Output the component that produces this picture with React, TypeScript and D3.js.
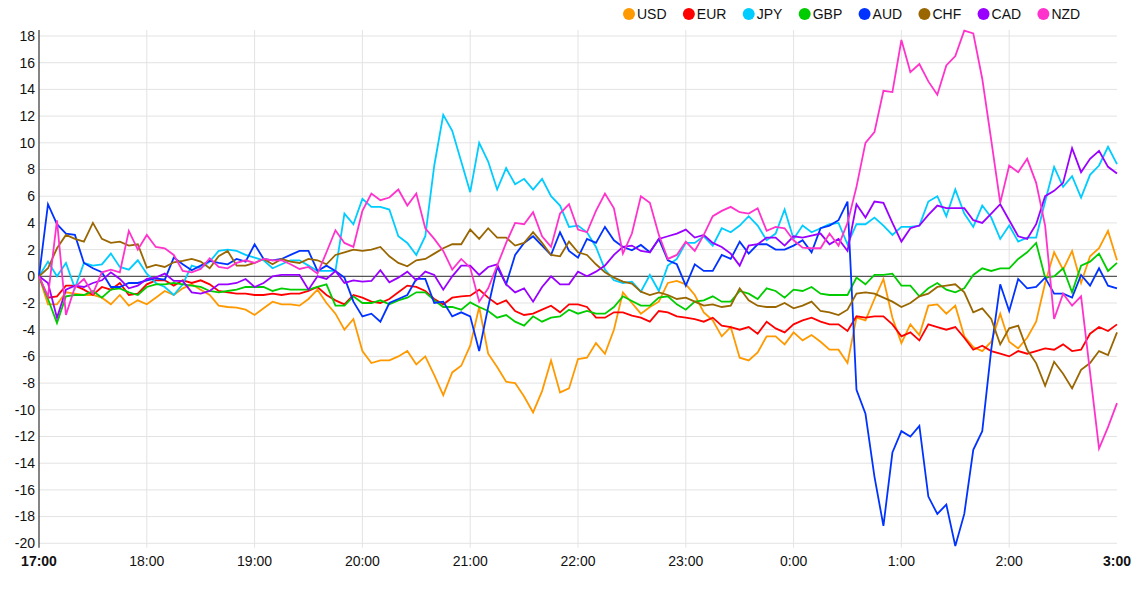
import { useEffect, useRef } from 'react'
import * as d3 from 'd3'

// 5-minute steps from 17:00 to 3:00 (121 points)
const hourLabels = ['17:00', '18:00', '19:00', '20:00', '21:00', '22:00', '23:00', '0:00', '1:00', '2:00', '3:00']
const yTicks = d3.range(-20, 19, 2)

const usd = [0, -2.1, -2.1, -1.2, -1.3, -1.4, -1.4, -1.6, -2.1, -1.4, -2.2, -1.8, -2.1, -1.6, -1.1, -1.4, -0.9, -0.6, -1.0, -1.4, -2.2, -2.3, -2.35, -2.5, -2.9, -2.4, -1.9, -2.1, -2.1, -2.2, -1.7, -1.0, -2.0, -2.8, -4.0, -3.2, -5.6, -6.5, -6.3, -6.3, -6.0, -5.6, -6.6, -6.0, -7.4, -8.9, -7.2, -6.7, -5.2, -2.3, -5.8, -6.8, -7.9, -8.0, -9.0, -10.2, -8.6, -6.3, -8.7, -8.4, -6.2, -6.1, -5.0, -5.8, -4.0, -1.2, -2.0, -2.8, -2.3, -1.9, -0.5, -0.35, -0.6, -1.4, -2.7, -3.3, -4.5, -3.8, -6.1, -6.3, -5.7, -4.5, -4.5, -5.1, -4.2, -4.8, -4.4, -4.9, -5.5, -5.5, -6.5, -3.1, -3.3, -1.7, -0.2, -3.1, -5.0, -3.6, -4.4, -2.2, -2.1, -2.8, -2.2, -4.5, -5.3, -5.6, -4.9, -2.8, -4.9, -5.4, -4.6, -3.4, -0.5, 1.8, 0.5, 1.9, -0.5, 1.5, 2.1, 3.4, 1.2]
const eur = [0, -1.6, -1.5, -0.7, -0.7, -1.0, -1.4, -0.8, -1.0, -0.5, -1.4, -1.3, -0.6, -0.3, -0.3, -0.7, -0.3, -0.5, -0.3, -0.6, -1.1, -1.2, -1.3, -1.3, -1.4, -1.4, -1.3, -1.4, -1.3, -1.3, -1.1, -0.8, -1.4, -1.8, -2.1, -1.4, -1.6, -1.9, -2.0, -1.7, -1.2, -0.7, -0.8, -1.1, -1.7, -2.1, -1.6, -1.5, -1.45, -1.0, -1.6, -2.1, -1.8, -2.6, -2.9, -2.8, -2.5, -2.2, -2.7, -2.1, -2.1, -2.3, -3.1, -3.1, -2.7, -2.7, -2.95, -3.1, -3.4, -2.6, -2.7, -3.0, -3.1, -3.2, -3.4, -3.1, -3.7, -3.8, -4.0, -3.8, -4.3, -3.4, -3.9, -4.2, -3.6, -3.3, -3.1, -3.4, -3.6, -3.6, -4.1, -3.0, -3.1, -3.0, -3.0, -3.6, -4.5, -4.2, -4.8, -3.6, -3.8, -4.0, -3.8, -4.6, -5.5, -5.2, -5.6, -5.8, -6.0, -5.6, -5.8, -5.6, -5.4, -5.5, -5.1, -5.6, -5.5, -4.3, -3.8, -4.1, -3.6]
const jpy = [0, 1.1, 0, 1.0, -0.9, 1.0, 0.8, 0.9, 1.7, 0.7, 0.5, 1.2, 0.2, -0.5, -0.8, -1.4, -0.6, 0.8, 0.6, 1.1, 1.9, 2.0, 1.9, 1.6, 1.4, 1.2, 0.6, 0.9, 1.2, 1.2, 0.8, 0.4, 0.4, 0.4, 4.7, 3.9, 5.8, 5.2, 5.2, 5.0, 3.0, 2.5, 1.6, 3.0, 8.3, 12.1, 10.9, 8.6, 6.3, 10.0, 8.6, 6.5, 8.1, 6.9, 7.3, 6.5, 7.3, 6.0, 5.3, 3.7, 3.8, 3.3, 2.2, 0.5, -0.3, -0.5, -0.4, -1.15, 0.1, -1.1, 0.8, 1.3, 2.5, 2.5, 3.0, 2.3, 3.6, 3.3, 3.8, 4.5, 3.8, 2.7, 3.2, 5.0, 2.8, 3.8, 3.3, 3.6, 3.9, 4.0, 2.4, 3.9, 3.9, 4.4, 3.8, 3.1, 3.7, 3.7, 3.8, 5.6, 6.0, 4.5, 6.5, 4.7, 3.7, 5.3, 4.4, 2.8, 3.8, 2.6, 2.9, 2.9, 5.6, 8.2, 6.7, 7.5, 5.9, 7.6, 8.3, 9.7, 8.4]
const gbp = [0, -1.7, -3.5, -1.5, -1.4, -1.4, -1.1, -1.6, -1.0, -0.9, -1.2, -1.4, -0.8, -0.6, -0.6, -0.5, -0.6, -0.7, -0.8, -1.1, -1.2, -1.1, -1.0, -0.8, -0.8, -0.8, -1.1, -0.9, -1.0, -1.0, -1.0, -0.8, -0.6, -2.2, -2.2, -1.5, -2.0, -2.0, -1.8, -2.1, -1.8, -1.6, -1.2, -1.2, -1.8, -2.3, -2.3, -2.5, -1.95, -2.3, -2.6, -3.1, -2.9, -3.4, -3.7, -3.0, -3.4, -3.1, -3.0, -2.5, -2.8, -2.6, -2.8, -2.8, -2.3, -1.5, -1.85, -2.2, -2.2, -1.6, -1.5, -2.1, -2.5, -1.9, -1.8, -1.5, -1.9, -1.9, -1.1, -1.3, -1.7, -0.9, -1.1, -1.6, -1.0, -1.1, -0.8, -1.3, -1.4, -1.4, -1.4, -0.1, -0.6, 0.1, 0.1, 0.2, -0.7, -0.7, -1.5, -0.9, -0.5, -1.0, -1.2, -0.9, 0.1, 0.6, 0.4, 0.6, 0.6, 1.3, 1.8, 2.5, -0.1, 0, 0.6, -1.2, 0.8, 1.1, 1.7, 0.4, 1.0]
const aud = [0, 5.4, 3.9, 3.2, 3.1, 1.0, 0.6, 0.3, -0.8, -0.8, -0.5, -0.5, -0.3, -0.15, -0.25, 1.4, 0.9, 0.45, 0.8, 1.15, 1.0, 0.9, 1.3, 1.1, 2.4, 1.3, 1.2, 1.3, 1.6, 1.9, 1.9, 0.4, 0.8, 0.4, -0.1, -1.9, -3.0, -2.8, -3.4, -2.0, -1.7, -1.4, -0.2, -0.2, -2.0, -1.9, -3.0, -2.7, -3.0, -5.6, -2.3, 0.7, -0.6, 1.6, 2.5, 3.0, 2.3, 1.6, 3.3, 1.9, 1.4, 2.8, 2.5, 3.7, 2.7, 2.2, 1.95, 2.35, 1.8, 2.8, 1.2, 0.9, -0.7, 0.9, 0.4, 0.4, 1.6, 1.3, 2.6, 1.7, 2.4, 2.4, 2.0, 2.0, 2.3, 2.7, 1.8, 3.6, 3.8, 4.2, 5.6, -8.5, -10.3, -15.0, -18.7, -13.2, -11.6, -12.0, -11.2, -16.5, -17.8, -17.1, -20.2, -17.8, -13.0, -11.6, -5.5, -0.6, -2.6, -0.2, -0.9, -0.8, -0.1, -1.3, -1.3, -1.6, 0.1, -0.7, 0.6, -0.7, -0.9]
const chf = [0, 0.6, 2.1, 3.1, 2.8, 2.6, 4.0, 2.8, 2.5, 2.6, 2.3, 2.4, 0.65, 0.85, 0.7, 1.05, 1.15, 1.3, 1.1, 0.6, 1.5, 1.9, 0.8, 0.8, 1.0, 1.3, 0.9, 1.3, 1.1, 1.0, 1.3, 1.2, 0.9, 1.6, 1.8, 2.0, 1.9, 2.0, 2.2, 1.5, 1.0, 0.75, 1.2, 1.3, 1.7, 2.1, 2.4, 2.4, 3.5, 2.8, 3.6, 2.9, 2.9, 2.3, 2.5, 3.3, 2.5, 1.6, 1.5, 2.6, 1.8, 1.6, 0.9, 0.3, -0.1, -0.4, -0.55, -1.15, -1.4, -1.2, -1.4, -1.7, -1.6, -1.9, -2.2, -2.1, -2.3, -2.2, -0.9, -1.8, -2.2, -2.3, -2.3, -2.0, -2.4, -2.2, -1.9, -2.6, -2.7, -2.9, -2.5, -1.3, -1.2, -1.3, -1.6, -1.9, -2.3, -2.0, -1.5, -1.3, -0.8, -0.7, -0.6, -1.2, -2.7, -2.4, -3.2, -5.1, -3.9, -3.7, -5.5, -6.5, -8.2, -6.4, -7.3, -8.4, -7.0, -6.5, -5.6, -5.9, -4.2]
const cad = [0, -0.5, -3.1, -1.0, -0.7, -0.8, -0.5, -0.3, 0.3, -0.2, -0.9, -0.7, -0.2, -0.1, 0.2, -0.35, -0.35, -1.2, -1.3, -1.1, -0.6, -0.6, -0.5, -0.2, -0.8, -0.5, 0, 0.1, 0.1, 0.1, -1.0, 0, -0.2, 0.4, -0.5, -0.3, -0.4, -0.35, 0.45, -0.45, -0.1, 0.35, -0.3, 0.35, 0.1, -1.0, 0, 0.8, 0.8, 0.1, 0.7, 0.9, -0.6, -1.2, -0.9, -1.9, -0.8, 0, -0.6, -0.6, 0.35, 0, 0.35, 0.8, 1.6, 2.2, 2.3, 1.9, 1.8, 2.8, 3.0, 3.2, 3.5, 2.9, 3.1, 2.5, 2.2, 1.7, 0.8, 2.3, 2.4, 2.9, 2.9, 2.3, 3.0, 2.9, 3.05, 3.2, 2.4, 2.8, 1.9, 5.4, 4.4, 5.6, 5.5, 4.0, 2.6, 3.6, 3.8, 4.6, 5.3, 5.1, 5.1, 5.1, 4.2, 4.0, 4.7, 5.4, 4.2, 3.0, 2.8, 3.9, 6.0, 6.4, 7.0, 9.6, 7.8, 8.8, 9.4, 8.2, 7.7]
const nzd = [0, -1.5, 4.2, -2.9, -0.8, -0.2, -1.3, 0.3, 0.5, 0.3, 3.4, 2.0, 3.1, 2.2, 2.1, 1.6, 0.4, 0.3, 0.55, 1.35, 0.7, 0.6, 1.0, 1.2, 1.0, 1.3, 1.2, 1.2, 0.9, 0.55, 0.7, 0.2, 1.8, 3.45, 2.5, 2.2, 4.9, 6.2, 5.7, 5.9, 6.5, 5.3, 6.2, 3.6, 2.8, 1.9, 0.5, 1.3, 0.65, -1.9, -0.9, 0.8, 2.5, 4.0, 3.9, 4.8, 3.0, 2.2, 4.7, 5.4, 3.5, 3.3, 4.9, 6.2, 5.1, 1.7, 3.2, 6.0, 5.5, 3.1, 1.3, 1.6, 2.6, 1.9, 3.1, 4.5, 4.9, 5.2, 4.8, 4.7, 5.1, 3.4, 3.7, 3.6, 2.7, 2.15, 2.1, 2.1, 3.2, 2.3, 4.0, 6.7, 10.0, 10.8, 13.9, 13.8, 17.7, 15.3, 15.9, 14.6, 13.6, 15.8, 16.5, 18.4, 18.2, 14.8, 10.2, 5.5, 8.3, 7.8, 8.8, 7.0, 3.8, -3.2, -1.3, -2.2, -1.5, -7.2, -12.9, -11.3, -9.5]

const currencies = ['USD', 'EUR', 'JPY', 'GBP', 'AUD', 'CHF', 'CAD', 'NZD']
const seriesValues = [usd, eur, jpy, gbp, aud, chf, cad, nzd]
const colors = ['#ff9900', '#ff0000', '#00ccff', '#00cc00', '#0033ff', '#996600', '#9900ff', '#ff33cc']

export default function App() {
  const svgRef = useRef<SVGSVGElement>(null)

  useEffect(() => {
    document.body.style.margin = '0'
    if (!svgRef.current) return
    const svg = d3.select(svgRef.current)
    svg.selectAll('*').remove()

    const left = 39
    const right = 1117
    const top = 30
    const bottom = 547.7
    const font = 'Arial, "Liberation Sans", sans-serif'

    const x = d3.scaleLinear().domain([0, 120]).range([left, right])
    const y = d3.scaleLinear().domain([-20.33, 18.45]).range([bottom, top])

    // grid
    const grid = svg.append('g')
    grid.selectAll('line.h').data(yTicks).join('line')
      .attr('x1', left).attr('x2', right)
      .attr('y1', d => y(d)).attr('y2', d => y(d))
      .attr('stroke', '#e3e3e3').attr('stroke-width', 1)
    grid.selectAll('line.v').data(hourLabels.slice(1, -1)).join('line')
      .attr('x1', (_, i) => x((i + 1) * 12)).attr('x2', (_, i) => x((i + 1) * 12))
      .attr('y1', top).attr('y2', bottom)
      .attr('stroke', '#e3e3e3').attr('stroke-width', 1)

    // zero line
    svg.append('line')
      .attr('x1', left).attr('x2', right)
      .attr('y1', y(0)).attr('y2', y(0))
      .attr('stroke', '#333').attr('stroke-width', 1)

    // y axis
    svg.append('line')
      .attr('x1', left).attr('x2', left)
      .attr('y1', top).attr('y2', bottom)
      .attr('stroke', '#333').attr('stroke-width', 1.2)
    svg.append('g').selectAll('text').data(yTicks).join('text')
      .attr('x', left - 4).attr('y', d => y(d))
      .attr('dy', '0.35em')
      .attr('text-anchor', 'end')
      .attr('font-family', font).attr('font-size', 14).attr('fill', '#111')
      .text(d => d)

    // x labels
    svg.append('g').selectAll('text').data(hourLabels).join('text')
      .attr('x', (_, i) => x(i * 12)).attr('y', 566)
      .attr('text-anchor', 'middle')
      .attr('font-family', font).attr('font-size', 14).attr('fill', '#111')
      .attr('font-weight', (_, i) => (i === 0 || i === hourLabels.length - 1 ? 'bold' : 'normal'))
      .text(d => d)

    // lines
    const line = d3.line<number>().x((_, i) => x(i)).y(d => y(d))
    svg.append('g').selectAll('path').data(seriesValues).join('path')
      .attr('d', d => line(d))
      .attr('fill', 'none')
      .attr('stroke', (_, i) => colors[i])
      .attr('stroke-width', 1.8)
      .attr('stroke-linejoin', 'miter')

    // legend
    const legend = svg.append('g')
    let lx = 623
    currencies.forEach((c, i) => {
      legend.append('circle').attr('cx', lx + 6).attr('cy', 14).attr('r', 6).attr('fill', colors[i])
      const t = legend.append('text')
        .attr('x', lx + 14).attr('y', 14).attr('dy', '0.35em')
        .attr('font-family', font).attr('font-size', 14).attr('fill', '#111')
        .text(c)
      const w = (t.node() as SVGTextElement).getComputedTextLength()
      lx += 14 + w + 16.3
    })
  }, [])

  return <svg ref={svgRef} width={1137} height={589} style={{ display: 'block' }} />
}
